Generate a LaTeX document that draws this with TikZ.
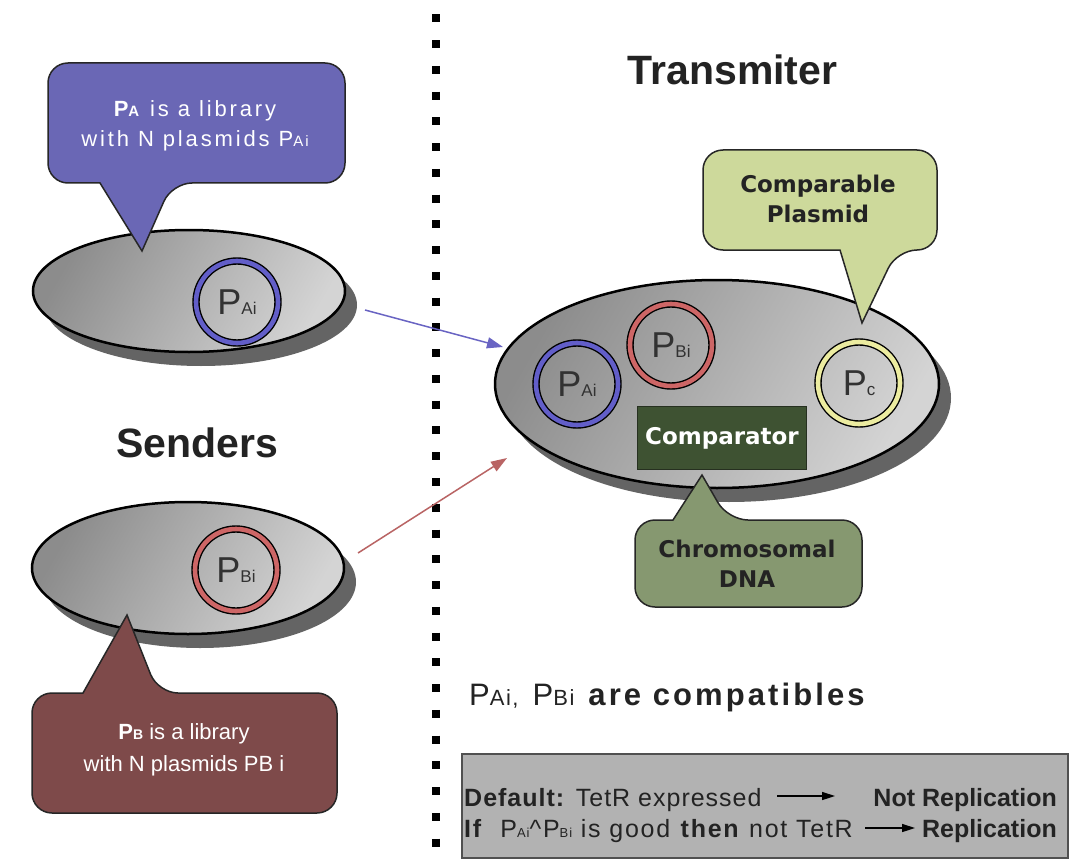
\documentclass[tikz,border=0pt]{standalone}
\usepackage{fontspec}
\setmainfont{Liberation Sans}
\newfontfamily\bubblefont{DejaVu Sans}
\usetikzlibrary{shapes.geometric,arrows.meta,shadows}

\definecolor{textDark}{RGB}{35,35,35}
\definecolor{labelGray}{RGB}{50,50,50}
\definecolor{cellDark}{RGB}{140,140,140}
\definecolor{cellMid}{RGB}{150,150,150}
\definecolor{cellLight}{RGB}{212,212,212}
\definecolor{cellShadow}{RGB}{100,100,100}
\definecolor{calloutBlue}{RGB}{106,103,181}
\definecolor{calloutRed}{RGB}{126,74,74}
\definecolor{calloutLime}{RGB}{205,217,155}
\definecolor{calloutMoss}{RGB}{134,152,112}
\definecolor{compFill}{RGB}{62,82,50}
\definecolor{compBorder}{RGB}{38,48,32}
\definecolor{ringBlue}{RGB}{98,94,200}
\definecolor{ringRed}{RGB}{205,102,102}
\definecolor{ringYellow}{RGB}{236,236,160}
\definecolor{arrowBlue}{RGB}{105,100,195}
\definecolor{arrowRed}{RGB}{185,100,100}
\definecolor{boxFill}{RGB}{178,178,178}
\definecolor{boxBorder}{RGB}{80,80,80}

% plasmid label: large P with a smaller index on the same baseline
\newcommand\plasmidlabel[1]{{\fontsize{36}{40}\selectfont P}{\fontsize{17}{20}\selectfont #1}}

\begin{document}
\begin{tikzpicture}[x=1pt,y=-1pt,
  cell/.style={ellipse, draw=black, line width=2.5pt, inner sep=0pt,
    top color=cellDark, middle color=cellMid, bottom color=cellLight, shading angle=60,
    drop shadow={shadow xshift=12pt, shadow yshift=-14pt, fill=cellShadow, opacity=1}},
  plasmid/.style={circle, minimum size=82pt, inner sep=0pt, draw=black,
    line width=1.4pt, double distance=4.6pt, text=labelGray},
  calloutpath/.style={draw=black!85, line width=1.5pt, rounded corners=20pt},
  transfer/.style={line width=1.5pt, -{Triangle[length=16pt,width=11pt]}},
  rulearrow/.style={line width=1.5pt, -{Triangle[length=13pt,width=8pt]}},
  ruletext/.style={inner sep=0pt, text=textDark, font=\fontsize{25}{30}\selectfont},
  title/.style={anchor=base, text=textDark, font=\bfseries\fontsize{41}{48}\selectfont},
  bubbletext/.style={align=center, text=textDark, font=\bubblefont\bfseries\fontsize{23}{30}\selectfont}
]
\fill[white] (0,0) rectangle (1073,861);
\useasboundingbox (0,0) rectangle (1073,861);

% dotted divider between senders and transmitter
\coordinate (divtop) at (436,14.3);
\coordinate (divbot) at (436,861);
\draw[line width=8pt, dash pattern=on 8pt off 17.76pt] (divtop) -- (divbot);

% cells
\node[cell, minimum width=312pt, minimum height=122pt] (senderA) at (189,291) {};
\node[cell, minimum width=312pt, minimum height=132pt] (senderB) at (188,568) {};
\node[cell, minimum width=444pt, minimum height=208pt] (receiver) at (717,384) {};

% transfer arrows
\coordinate (fromA) at (365,310);
\coordinate (toA) at (503,347);
\coordinate (fromB) at (358,553);
\coordinate (toB) at (507,458);
\draw[transfer, arrowBlue] (fromA) -- (toA);
\draw[transfer, arrowRed] (fromB) -- (toB);

% plasmids
\node[plasmid, double=ringBlue] (pa) at (237,302) {\plasmidlabel{Ai}};
\node[plasmid, double=ringRed] (pb) at (236,570) {\plasmidlabel{Bi}};
\node[plasmid, double=ringBlue] (rpa) at (577,384) {\plasmidlabel{Ai}};
\node[plasmid, double=ringRed] (rpb) at (671,345) {\plasmidlabel{Bi}};
\node[plasmid, double=ringYellow] (rpc) at (859,383) {\plasmidlabel{c}};

% comparator on the chromosome
\node[draw=compBorder, fill=compFill, line width=1.5pt, minimum width=169pt, minimum height=63pt,
  text=white, font=\bubblefont\bfseries\fontsize{23}{28}\selectfont] (comparator) at (722,438) {Comparator};

% callouts
\draw[calloutpath, fill=calloutBlue] (100,183) -- (48,183) -- (48,63) -- (345,63) -- (345,183) -- (172,183) [sharp corners] -- (142,251) -- cycle;
\node[align=center, text=white, font=\fontsize{22}{30}\selectfont\addfontfeatures{LetterSpace=13}] (libA) at (195,126)
  {\textbf{P{\fontsize{15}{15}\selectfont A}} is a library\\with N plasmids P{\fontsize{15}{15}\selectfont Ai}};

\draw[calloutpath, fill=calloutRed] (83,693) -- (32,693) -- (32,813) -- (337,813) -- (337,693) -- (158,693) [sharp corners] -- (127,615) -- cycle;
\node[align=center, text=white, font=\fontsize{22}{31.5}\selectfont] (libB) at (184,750)
  {\textbf{P{\fontsize{14}{14}\selectfont B}} is a library\\with N plasmids PB i};

\draw[calloutpath, fill=calloutLime] (840,250) -- (703,250) -- (703,150) -- (937,150) -- (937,250) -- (897,250) [sharp corners] -- (862,323) -- cycle;
\node[bubbletext] (comparable) at (818,199) {Comparable\\Plasmid};

\draw[calloutpath, fill=calloutMoss] (673,520) -- (635,520) -- (635,607) -- (862,607) -- (862,520) -- (728,520) [sharp corners] -- (702,475) -- cycle;
\node[bubbletext] (chromosome) at (747,564) {Chromosomal\\DNA};

% titles
\node[title] (transmitter) at (732.5,85) {Transmiter};
\node[title] (senders) at (197,457) {Senders};

% compatibility note
\node[anchor=base west, inner sep=0pt, text=textDark, font=\fontsize{31}{36}\selectfont\addfontfeatures{LetterSpace=7}] (compat) at (469,705)
  {P{\fontsize{22}{24}\selectfont Ai,}\hspace{14pt}P{\fontsize{22}{24}\selectfont Bi}\hspace{14pt}{\bfseries\addfontfeatures{LetterSpace=10}are compatibles}};

% replication rules
\node[draw=boxBorder, fill=boxFill, line width=2pt, minimum width=606pt, minimum height=104pt, inner sep=0pt] (rules) at (765,806) {};
\node[ruletext, anchor=base west, font=\fontsize{25}{30}\selectfont\addfontfeatures{LetterSpace=4}] (defaultcase) at (464,806)
  {\textbf{Default:} TetR expressed};
\node[ruletext, anchor=base east] (notrep) at (1057,806) {\textbf{Not Replication}};
\node[ruletext, anchor=base west, font=\fontsize{25}{30}\selectfont\addfontfeatures{LetterSpace=7}] (ifcase) at (464,837)
  {\textbf{If}\ \ P{\fontsize{13}{13}\selectfont Ai}\textasciicircum P{\fontsize{13}{13}\selectfont Bi} is good \textbf{then} not TetR};
\node[ruletext, anchor=base east] (rep) at (1057,837) {\textbf{Replication}};
\coordinate (d1) at (777,796);
\coordinate (d2) at (835,796);
\coordinate (r1) at (865,828);
\coordinate (r2) at (915,828);
\draw[rulearrow] (d1) -- (d2);
\draw[rulearrow] (r1) -- (r2);
\end{tikzpicture}
\end{document}
